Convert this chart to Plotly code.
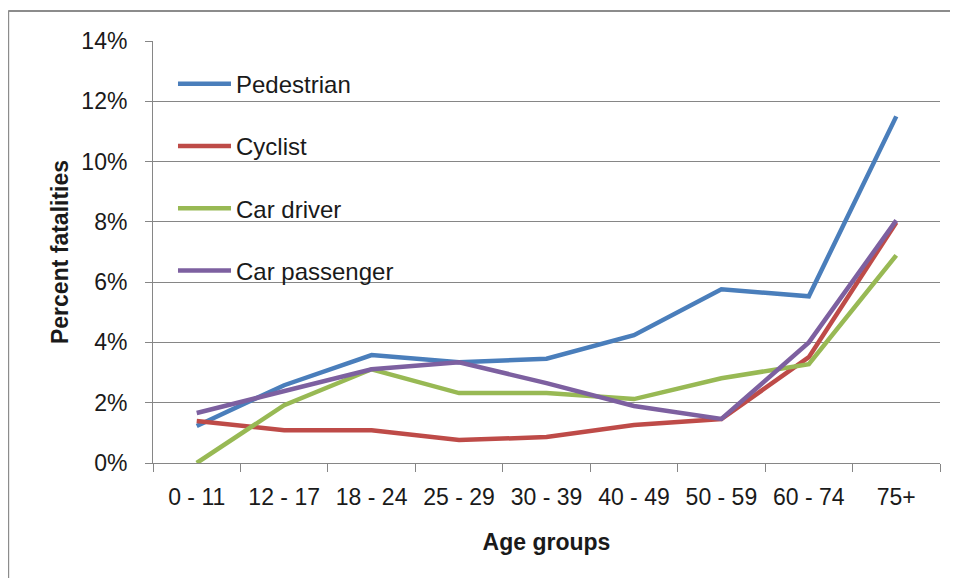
import plotly.graph_objects as go

# Share of fatalities by age group (percent)
age_groups = ["0 - 11", "12 - 17", "18 - 24", "25 - 29", "30 - 39",
              "40 - 49", "50 - 59", "60 - 74", "75+"]
pedestrian = [1.23, 2.58, 3.58, 3.34, 3.46, 4.24, 5.76, 5.53, 11.5]
cyclist = [1.39, 1.09, 1.09, 0.76, 0.86, 1.26, 1.46, 3.51, 7.98]
car_driver = [0.0, 1.92, 3.11, 2.32, 2.32, 2.12, 2.81, 3.28, 6.89]
car_passenger = [1.66, 2.38, 3.11, 3.34, 2.65, 1.89, 1.46, 4.0, 8.05]

series = [
    ("Pedestrian", pedestrian, "#4a7ebb"),
    ("Cyclist", cyclist, "#be4b48"),
    ("Car driver", car_driver, "#98b954"),
    ("Car passenger", car_passenger, "#7d60a0"),
]

fig = go.Figure()
for name, vals, color in series:
    fig.add_trace(go.Scatter(
        x=age_groups, y=vals, name=name, mode="lines",
        legendgroup=name,
        line=dict(color=color, width=4.5),
    ))

font_family = "Liberation Sans, Arial, sans-serif"

# chart frame: only the top and left edges fall inside the picture
frame = dict(type="line", xref="paper", yref="paper",
             line=dict(color="#8c8c8c", width=2), layer="below")

fig.update_layout(
    width=950, height=570,
    margin=dict(l=145, r=18, t=33, b=115),
    paper_bgcolor="white",
    plot_bgcolor="white",
    font=dict(family=font_family, size=23, color="#1a1a1a"),
    showlegend=True,
    legend=dict(
        x=0.0254, y=0.951, xanchor="left", yanchor="top",
        bgcolor="rgba(0,0,0,0)",
        font=dict(size=24, color="#1a1a1a"),
        tracegroupgap=28,
        itemwidth=53,
    ),
    xaxis=dict(
        type="category",
        range=[-0.5, 8.5],
        showgrid=False,
        showline=True, linecolor="#868686", linewidth=1,
        ticks="outside", tickson="boundaries", ticklen=8,
        tickcolor="#868686",
        ticklabelstandoff=13,
        title=dict(text="<b>Age groups</b>", font=dict(size=23), standoff=25),
    ),
    yaxis=dict(
        range=[0, 14], dtick=2, ticksuffix="%",
        showgrid=True, gridcolor="#868686", gridwidth=1,
        showline=True, linecolor="#868686", linewidth=1,
        ticks="outside", ticklen=7, tickcolor="#868686",
        ticklabelstandoff=13,
        zeroline=False,
        title=dict(text="<b>Percent fatalities</b>", font=dict(size=23), standoff=6),
    ),
    shapes=[
        dict(frame, x0=-0.184, x1=1.1, y0=1.071, y1=1.071),
        dict(frame, x0=-0.184, x1=-0.184, y0=-0.4, y1=1.071),
    ],
)

fig.write_html("out.html")
